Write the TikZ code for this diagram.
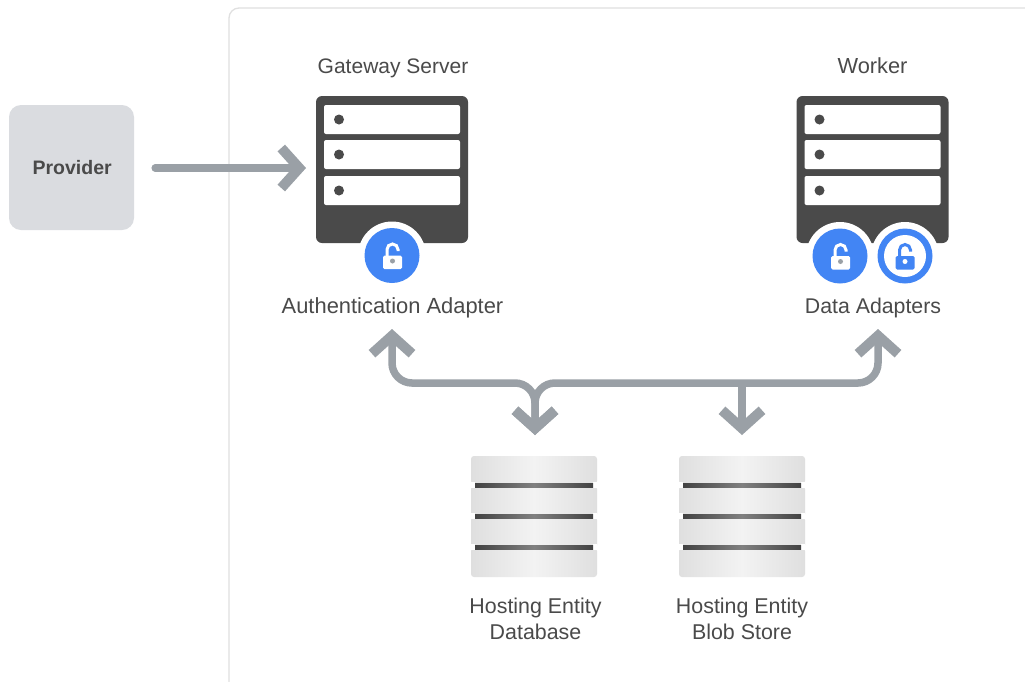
\documentclass[tikz,border=0pt]{standalone}
\usepackage{fontspec}
\setmainfont{Liberation Sans}
\usetikzlibrary{arrows.meta,calc}
\definecolor{ink}{HTML}{4A4A4A}
\definecolor{wire}{HTML}{9AA0A6}
\definecolor{lockblue}{HTML}{4285F4}
\definecolor{panelline}{HTML}{E0E0E0}
\definecolor{chip}{HTML}{DADCE0}
\definecolor{discedge}{HTML}{DFDFDF}
\definecolor{disccentre}{HTML}{F3F3F3}
\tikzset{
 x=1pt,y=-1pt,
 label/.style={font=\fontsize{#1}{26}\selectfont,text=ink,align=center,inner sep=0pt,anchor=base},
 wirepath/.style={draw=wire,line width=7.5pt,rounded corners=20pt,line cap=butt},
 barbhead/.tip={Straight Barb[length=18pt,width=40pt,line width=10pt]},
 barbs/.style={arrows={-barbhead}},
 barbboth/.style={arrows={barbhead-barbhead}},
 chassis/.style={fill=ink,rounded corners=6pt},
 slot/.style={fill=white,rounded corners=2pt},
 disc/.style={left color=discedge,right color=discedge,middle color=disccentre,rounded corners=3pt},
}
\newcommand{\serverbox}[2]{%
 \path[chassis] (#2,96) rectangle (#2+152,243);
 \node[minimum width=152pt,minimum height=147pt,inner sep=0pt] (#1) at (#2+76,169.5) {};
 \foreach \yy in {105,140,176}{
  \path[slot] (#2+8,\yy) rectangle (#2+144,\yy+29);
  \fill[ink] (#2+23,\yy+14.5) circle (5);
 }}
\newcommand{\lockglyph}[4]{%
 \fill[#3,rounded corners=1.5pt] (#1-9.5,#2) rectangle (#1+9.5,#2+13.5);
 \draw[#3,line width=3pt] (#1-5.5,#2+1) -- (#1-5.5,#2-6) arc[start angle=180,end angle=0,radius=5.5pt] -- (#1+5.5,#2-4.5);
 \fill[#4] (#1,#2+5.5) circle (2.5);}
\newcommand{\discstack}[2]{%
 \node[minimum width=126pt,minimum height=121pt,inner sep=0pt] (#1) at (#2+63,516.5) {};
 \path[disc] (#2,456) rectangle (#2+126,484);
 \path[disc] (#2,486) rectangle (#2+126,517);
 \path[disc] (#2,517) rectangle (#2+126,548);
 \path[disc] (#2,548) rectangle (#2+126,577);
 \foreach \yy in {483,514,545}{
  \fill[white] (#2,\yy-1) rectangle (#2+4,\yy+5);
  \fill[white] (#2+122,\yy-1) rectangle (#2+126,\yy+5);
  \shade[left color=ink!90!black,right color=ink!90!black,middle color=ink!70] (#2+4,\yy) rectangle (#2+122,\yy+4);
 }}
\begin{document}
\begin{tikzpicture}
\useasboundingbox (0,0) rectangle (1025,681);
\fill[white] (0,0) rectangle (1025,681);
\draw[panelline,line width=1.3pt,rounded corners=10pt] (229,700) -- (229,8) -- (1045,8);

\node[fill=chip,rounded corners=12pt,minimum width=125pt,minimum height=125pt,inner sep=0pt] (provider) at (71.5,167.5) {};
\node[font=\fontsize{19.5}{24}\selectfont\bfseries,text=ink,inner sep=0pt] (providerlabel) at (72.2,167.5) {Provider};

\serverbox{gateway}{316}
\serverbox{worker}{796.5}

\fill[white] (392,255.5) circle (34);
\fill[lockblue] (392,255.5) circle (27.5);
\lockglyph{392.5}{255.5}{white}{wire}

\fill[white] (840,256) circle (34);
\fill[white] (905,256) circle (34);
\fill[lockblue] (840,256) circle (27.5);
\lockglyph{840.5}{256}{white}{wire}
\fill[lockblue] (905,256) circle (27.5);
\fill[white] (905,256) circle (21);
\lockglyph{905}{256}{lockblue}{white}

\node[label=21] (gwlabel) at (393,73) {Gateway Server};
\node[label=21.8] (wklabel) at (872.5,73) {Worker};
\node[label=21.9] (authlabel) at (392.5,313.5) {Authentication Adapter};
\node[label=21.3] (datalabel) at (873,313.5) {Data Adapters};

\discstack{database}{471}
\discstack{blobstore}{679}
\node[label=21.4,anchor=north] (dblabel) at (535.5,597.5) {Hosting Entity\\Database};
\node[label=21.4,anchor=north] (bloblabel) at (742,597.5) {Hosting Entity\\Blob Store};

\coordinate (provEnd) at (306,168);
\coordinate (authEnd) at (392,329);
\coordinate (dataEnd) at (878,329);
\coordinate (dbEnd) at (535,435);
\coordinate (blobEnd) at (742,435);
\coordinate (busLeft) at (392,383);
\coordinate (busRight) at (878,383);
\coordinate (busDb) at (535,383);
\coordinate (busBlob) at (742,383);

\draw[wirepath,barbs,line cap=round] (provider.east) ++(21,0.5) -- (provEnd);
\draw[wirepath,barbboth] (authEnd) -- (busLeft) -- (busDb) -- (dbEnd);
\draw[wirepath,barbboth] (dataEnd) -- (busRight) -- (busDb) -- (dbEnd);
\draw[wirepath,barbs] (busBlob) -- (blobEnd);
\end{tikzpicture}
\end{document}
